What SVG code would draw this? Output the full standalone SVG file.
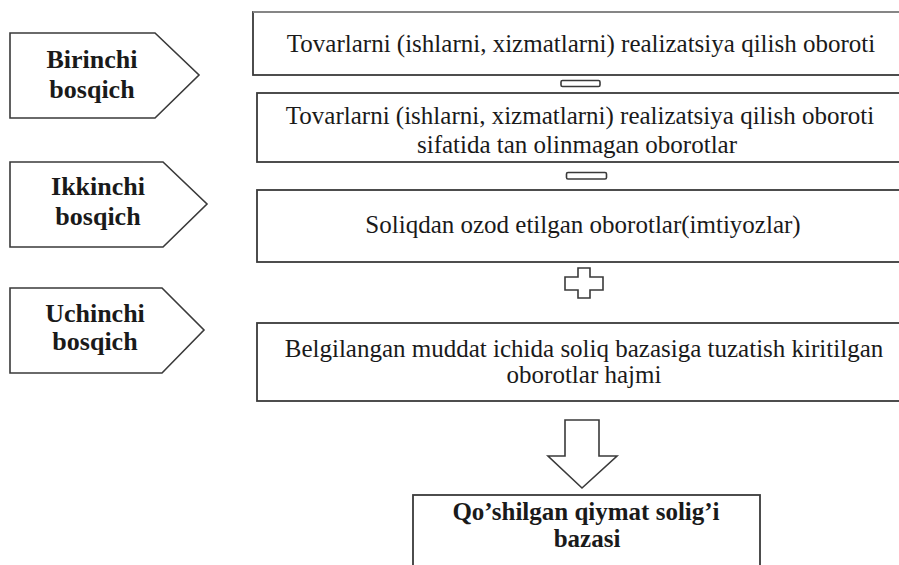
<svg xmlns="http://www.w3.org/2000/svg" width="899" height="565" viewBox="0 0 899 565">
  <style>
    .stage { fill: #ffffff; stroke: #3a3a3a; stroke-width: 1.6; stroke-linejoin: miter; }
    .box { fill: #ffffff; stroke: #3a3a3a; stroke-width: 1.8; }
    .sign { fill: #ffffff; stroke: #3a3a3a; stroke-width: 1.6; }
    text { font-family: "Liberation Serif", "Times New Roman", serif; fill: #1a1a1a; text-anchor: middle; }
    .stage-text { font-weight: bold; font-size: 26px; }
    .body-text { font-size: 25px; }
    .result-text { font-weight: bold; font-size: 25px; }
  </style>
  <rect x="0" y="0" width="899" height="565" fill="#ffffff"/>

  <!-- stage labels -->
  <g id="stage1">
    <polygon class="stage" points="10,33 155,33 199,75 155,118 10,118"/>
    <text class="stage-text" x="92" y="68">Birinchi</text>
    <text class="stage-text" x="92" y="98">bosqich</text>
  </g>
  <g id="stage2">
    <polygon class="stage" points="10,162 163,162 207,204 163,247 10,247"/>
    <text class="stage-text" x="98" y="195">Ikkinchi</text>
    <text class="stage-text" x="98" y="225">bosqich</text>
  </g>
  <g id="stage3">
    <polygon class="stage" points="10,288 162,288 204,330 162,373 10,373"/>
    <text class="stage-text" x="95" y="322">Uchinchi</text>
    <text class="stage-text" x="95" y="350">bosqich</text>
  </g>

  <!-- turnover components -->
  <g id="turnover">
    <rect x="253" y="12" width="660" height="63" fill="#ffffff" stroke="#3a3a3a" stroke-width="1.8"/>
    <line x1="253" y1="12" x2="899" y2="12" stroke="#9a9a9a" stroke-width="1.4"/>
    <text class="body-text" x="581" y="52">Tovarlarni (ishlarni, xizmatlarni) realizatsiya qilish oboroti</text>
  </g>
  <g id="not-recognised">
    <rect class="box" x="257" y="93" width="660" height="69"/>
    <text class="body-text" x="580" y="124">Tovarlarni (ishlarni, xizmatlarni) realizatsiya qilish oboroti</text>
    <text class="body-text" x="577" y="153">sifatida tan olinmagan oborotlar</text>
  </g>
  <g id="exempt">
    <rect class="box" x="257" y="190" width="660" height="72"/>
    <text class="body-text" x="583" y="233">Soliqdan ozod etilgan oborotlar(imtiyozlar)</text>
  </g>
  <g id="adjusted">
    <rect class="box" x="257" y="323" width="660" height="78"/>
    <text class="body-text" x="584" y="357">Belgilangan muddat ichida soliq bazasiga tuzatish kiritilgan</text>
    <text class="body-text" x="584" y="383">oborotlar hajmi</text>
  </g>
  <g id="vat-base">
    <rect class="box" x="413" y="495" width="347" height="90"/>
    <text class="result-text" x="586" y="520">Qo’shilgan qiymat solig’i</text>
    <text class="result-text" x="587" y="547">bazasi</text>
  </g>

  <!-- operators and the result arrow -->
  <g id="connectors">
    <rect class="sign" x="561" y="80.5" width="39" height="6" rx="1.5"/>
    <rect class="sign" x="566.5" y="172.5" width="40" height="6.5" rx="1.5"/>
    <polygon class="sign" points="578,268 590,268 590,277 603,277 603,290 590,290 590,298 578,298 578,290 565,290 565,277 578,277"/>
    <polygon class="sign" points="565,420 599,420 599,456 617,456 582,488 548,456 565,456"/>
  </g>
</svg>
